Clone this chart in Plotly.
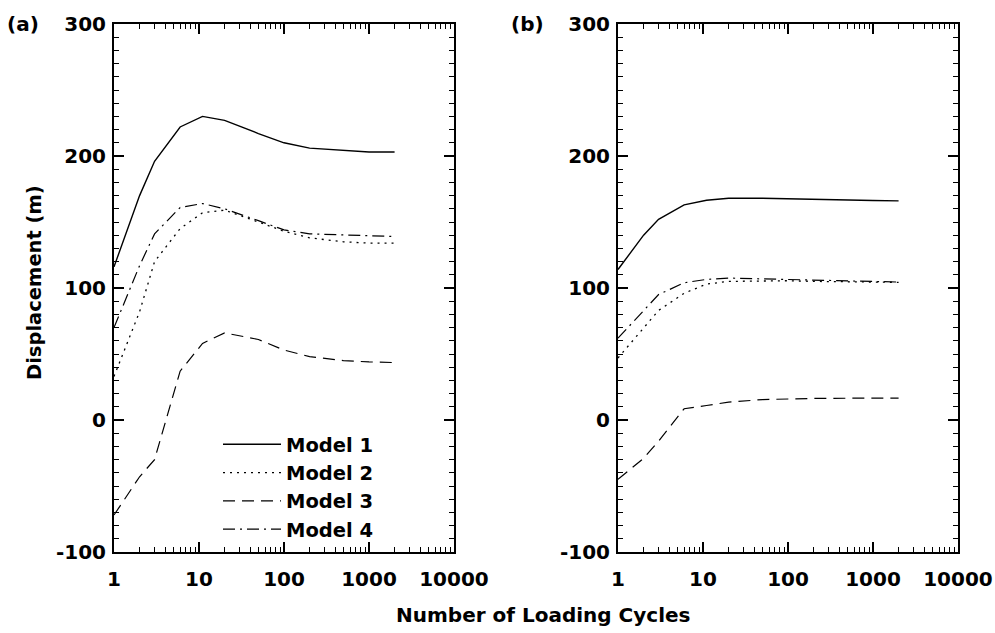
import plotly.graph_objects as go

cycles = [1, 2, 3, 6, 11, 20, 50, 100, 200, 500, 1000, 2000]

# Panel (a)
m1_a = [116, 170, 196, 222, 230, 227, 217, 210, 206, 204, 203, 203]
m2_a = [33, 82, 120, 145, 157, 159, 150, 143, 138, 135, 134, 134]
m3_a = [-72, -43, -30, 37, 58, 66, 61, 53, 48, 45, 44, 43.5]
m4_a = [70, 117, 141, 161, 164, 160, 151, 144, 141, 140, 139.5, 139]

# Panel (b)
m1_b = [114, 140, 152, 163, 166.5, 168, 168, 167.5, 167, 166.5, 166.3, 166]
m2_b = [47, 70, 83, 96, 103, 105, 105.5, 105.5, 105, 104.8, 104.5, 104.3]
m3_b = [-45, -29, -16, 8.5, 11, 13.5, 15.5, 16, 16.3, 16.5, 16.5, 16.5]
m4_b = [62, 83, 95, 104, 106.5, 107.5, 107, 106.5, 106, 105.5, 105, 104.5]

names = ["Model 1", "Model 2", "Model 3", "Model 4"]
dashes = ["solid", "2px,5px", "12px,7px", "12px,5px,2px,5px"]
widths = [1.4, 1.3, 1.2, 1.2]

FONT = "DejaVu Sans"
W, H = 995, 633

fig = go.Figure()

series_a = [m1_a, m2_a, m3_a, m4_a]
series_b = [m1_b, m2_b, m3_b, m4_b]
for i in range(4):
    fig.add_trace(go.Scatter(x=cycles, y=series_a[i], mode="lines", name=names[i],
                             line=dict(color="black", width=widths[i], dash=dashes[i]),
                             xaxis="x", yaxis="y", showlegend=True))
for i in range(4):
    fig.add_trace(go.Scatter(x=cycles, y=series_b[i], mode="lines", name=names[i],
                             line=dict(color="black", width=widths[i], dash=dashes[i]),
                             xaxis="x2", yaxis="y2", showlegend=False))

x_ticks = [1, 10, 100, 1000, 10000]
y_ticks = [-100, 0, 100, 200, 300]

def xax(domain, anchor):
    return dict(type="log", domain=domain, anchor=anchor, range=[0, 4],
                automargin=False,
                tickvals=x_ticks, ticktext=[str(v) for v in x_ticks],
                ticks="inside", ticklen=10, tickwidth=1.5, tickcolor="black",
                showline=True, linewidth=2, linecolor="black", mirror="ticks",
                showgrid=False, zeroline=False,
                tickfont=dict(family=FONT, size=20, color="black", weight="bold"),
                ticklabelstandoff=8,
                minor=dict(ticks="inside", ticklen=5, tickwidth=1.2, tickcolor="black",
                           dtick="D1", showgrid=False))

def yax(domain, anchor):
    return dict(domain=domain, anchor=anchor, range=[-100, 300],
                automargin=False,
                tickvals=y_ticks, ticktext=[str(v) for v in y_ticks],
                ticks="inside", ticklen=10, tickwidth=1.5, tickcolor="black",
                showline=True, linewidth=2, linecolor="black", mirror="ticks",
                showgrid=False, zeroline=False,
                tickfont=dict(family=FONT, size=20, color="black", weight="bold"),
                ticklabelstandoff=2,
                minor=dict(ticks="inside", ticklen=5, tickwidth=1.2, tickcolor="black",
                           dtick=10, showgrid=False))

ydom = [1 - 552 / H, 1 - 24 / H]
fig.update_layout(
    width=W, height=H,
    margin=dict(l=0, r=0, t=0, b=0, autoexpand=False),
    paper_bgcolor="white", plot_bgcolor="white",
    font=dict(family=FONT, size=20, color="black", weight="bold"),
    xaxis=xax([114 / W, 454 / W], "y"),
    yaxis=yax(ydom, "x"),
    xaxis2=xax([618 / W, 958 / W], "y2"),
    yaxis2=yax(ydom, "x2"),
    showlegend=True,
    legend=dict(x=218 / W, y=1 - 425 / H, xanchor="left", yanchor="top",
                bgcolor="rgba(0,0,0,0)", borderwidth=0,
                font=dict(family=FONT, size=19.5, color="black", weight="bold"),
                itemwidth=58, tracegroupgap=0),
    annotations=[
        dict(text="Number of Loading Cycles", x=543 / W, y=1 - 615 / H,
             xanchor="center", yanchor="middle",
             xref="paper", yref="paper", showarrow=False,
             font=dict(family=FONT, size=20, color="black", weight="bold")),
        dict(text="Displacement (m)", x=34 / W, y=1 - 283 / H, textangle=-90,
             xanchor="center", yanchor="middle",
             xref="paper", yref="paper", showarrow=False,
             font=dict(family=FONT, size=19.5, color="black", weight="bold")),
        dict(text="(a)", x=23 / W, y=1 - 24 / H, xanchor="center", yanchor="middle",
             xref="paper", yref="paper",
             showarrow=False, font=dict(family=FONT, size=20, color="black", weight="bold")),
        dict(text="(b)", x=527 / W, y=1 - 24 / H, xanchor="center", yanchor="middle",
             xref="paper", yref="paper",
             showarrow=False, font=dict(family=FONT, size=20, color="black", weight="bold")),
    ],
)

fig.write_html("out.html")
